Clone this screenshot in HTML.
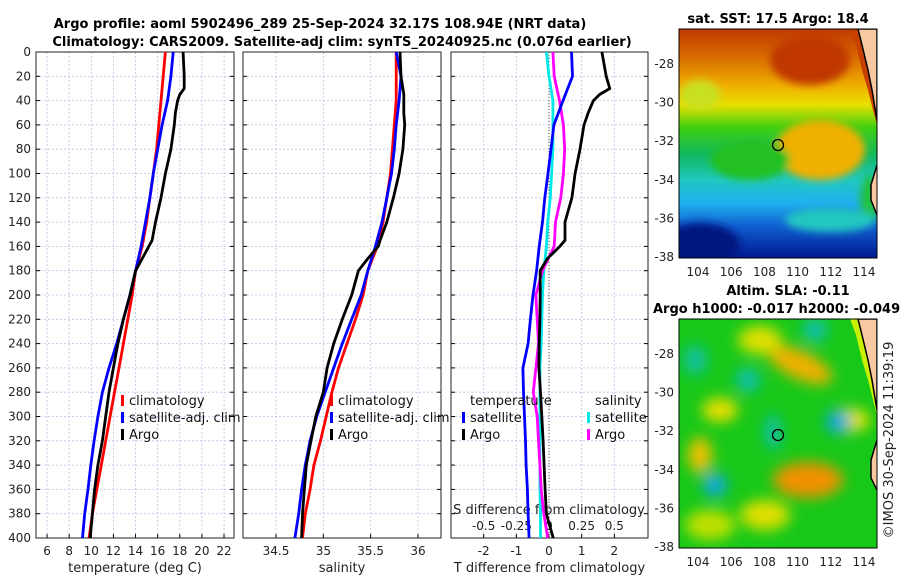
<!DOCTYPE html>
<html><head><meta charset="utf-8"><style>
body{margin:0;background:#fff;}
svg text{font-family:"DejaVu Sans","Liberation Sans",sans-serif;}
</style></head><body>
<svg id="fig" width="900" height="580" viewBox="0 0 900 580" xmlns="http://www.w3.org/2000/svg">
<defs>
<linearGradient id="sstg" x1="0" y1="0" x2="0" y2="1">
<stop offset="0" stop-color="#c03a00"/><stop offset="0.12" stop-color="#d86a00"/>
<stop offset="0.25" stop-color="#f0b000"/><stop offset="0.33" stop-color="#e8e000"/>
<stop offset="0.43" stop-color="#40d010"/><stop offset="0.55" stop-color="#10b860"/>
<stop offset="0.66" stop-color="#20c8c0"/><stop offset="0.76" stop-color="#20b0f0"/>
<stop offset="0.86" stop-color="#1060d0"/><stop offset="1" stop-color="#001890"/>
</linearGradient>
<filter id="blur"><feGaussianBlur stdDeviation="7"/></filter>
<filter id="blur2"><feGaussianBlur stdDeviation="4"/></filter>
<clipPath id="c1"><rect x="679" y="29" width="198" height="229"/></clipPath>
<clipPath id="c2"><rect x="679" y="319" width="198" height="229"/></clipPath>
</defs>
<text x="320" y="28" text-anchor="middle" font-size="13" font-weight="bold">Argo profile: aoml 5902496_289 25-Sep-2024 32.17S 108.94E (NRT data)</text>
<text x="342" y="46" text-anchor="middle" font-size="13" font-weight="bold">Climatology: CARS2009. Satellite-adj clim: synTS_20240925.nc (0.076d earlier)</text>
<g id="panels"></g>
<g id="maps">
<text x="778" y="23" text-anchor="middle" font-size="13" font-weight="bold">sat. SST: 17.5 Argo: 18.4</text>
<g clip-path="url(#c1)">
<rect x="679" y="29" width="198" height="229" fill="url(#sstg)"/>
<g filter="url(#blur2)">
<ellipse cx="810" cy="60" rx="40" ry="25" fill="#c03800"/>
<ellipse cx="700" cy="95" rx="20" ry="15" fill="#c8e020"/>
<ellipse cx="820" cy="150" rx="45" ry="30" fill="#f0b000"/>
<ellipse cx="750" cy="160" rx="40" ry="20" fill="#20c020"/>
<ellipse cx="870" cy="200" rx="10" ry="25" fill="#20c040"/>
<ellipse cx="700" cy="245" rx="40" ry="22" fill="#001880"/>
<ellipse cx="830" cy="220" rx="45" ry="12" fill="#20c8c0"/>
</g>
<path d="M850 29 L856 45 L862 70 L868 90 L873 110 L877 125 L877 29Z" fill="#c84000"/>
<path d="M858 29 L862 45 L868 70 L872 90 L877 120 L877 29Z" fill="#f8c8a0" stroke="#000" stroke-width="1.5"/>
<path d="M877 165 L871 185 L871 200 L877 215" fill="#f8c8a0" stroke="#000" stroke-width="1.5"/>
<circle cx="778" cy="145" r="5.5" fill="none" stroke="#000" stroke-width="1.3"/>
</g>
<rect x="679" y="29" width="198" height="229" fill="none" stroke="#000" stroke-width="1"/>
<text x="788" y="295" text-anchor="middle" font-size="13" font-weight="bold">Altim. SLA: -0.11</text>
<text x="653" y="313" font-size="13" font-weight="bold">Argo h1000: -0.017 h2000: -0.049</text>
<g clip-path="url(#c2)">
<rect x="679" y="319" width="198" height="229" fill="#18c818"/>
<g filter="url(#blur)">
<ellipse cx="800" cy="365" rx="35" ry="14" fill="#f0b000" transform="rotate(25 800 365)"/>
<ellipse cx="760" cy="340" rx="22" ry="14" fill="#e0e000"/>
<ellipse cx="720" cy="410" rx="18" ry="12" fill="#e8e000"/>
<ellipse cx="700" cy="455" rx="12" ry="18" fill="#f0c000"/>
<ellipse cx="808" cy="480" rx="35" ry="18" fill="#f09000"/>
<ellipse cx="765" cy="515" rx="25" ry="15" fill="#e0e000"/>
<ellipse cx="710" cy="525" rx="25" ry="15" fill="#c0e000"/>
<ellipse cx="850" cy="420" rx="20" ry="12" fill="#e0e000"/>
<ellipse cx="715" cy="485" rx="12" ry="12" fill="#10a8e0"/>
<ellipse cx="838" cy="422" rx="12" ry="12" fill="#10a8e0"/>
<ellipse cx="773" cy="432" rx="8" ry="18" fill="#10c0b0"/>
<ellipse cx="815" cy="330" rx="12" ry="12" fill="#10c0b0"/>
<ellipse cx="748" cy="380" rx="12" ry="12" fill="#10c0b0"/>
<ellipse cx="695" cy="360" rx="12" ry="15" fill="#10c0a0"/>
</g>
<path d="M850 319 L856 335 L862 360 L868 380 L873 400 L877 415 L877 319Z" fill="#c8f000"/>
<path d="M858 319 L862 335 L868 360 L872 380 L877 410 L877 319Z" fill="#f8c8a0" stroke="#000" stroke-width="1.5"/>
<path d="M877 440 L871 460 L871 478 L877 490" fill="#f8c8a0" stroke="#000" stroke-width="1.5"/>
<circle cx="778" cy="435" r="5.5" fill="none" stroke="#000" stroke-width="1.3"/>
</g>
<rect x="679" y="319" width="198" height="229" fill="none" stroke="#000" stroke-width="1"/>
<text transform="translate(893,440) rotate(-90)" text-anchor="middle" font-size="13" fill="#222">©IMOS 30-Sep-2024 11:39:19</text>
</g>
</svg>
<script>
const depths=[0,20,40,60,80,100,120,140,160,180,200,220,240,260,280,300,320,340,360,380,400];
const climT=[16.7,16.5,16.3,16.1,15.9,15.6,15.3,15.0,14.6,14.0,13.7,13.3,12.9,12.5,12.1,11.7,11.3,10.9,10.5,10.1,9.8];
const satT=[17.4,17.2,16.9,16.4,16.0,15.6,15.3,14.9,14.5,14.0,13.5,12.9,12.3,11.6,11.0,10.6,10.25,9.95,9.7,9.4,9.2];
const argoDepths=[0,20,30,35,40,50,60,80,100,120,140,155,160,170,180,200,220,240,260,280,300,320,340,360,380,400];
const argoT=[18.3,18.4,18.4,18.0,17.8,17.6,17.5,17.2,16.7,16.3,15.8,15.5,15.2,14.6,14.0,13.5,12.9,12.4,12.0,11.6,11.3,11.0,10.6,10.3,10.1,9.9];
const climS=[35.77,35.77,35.77,35.75,35.73,35.71,35.67,35.63,35.57,35.47,35.42,35.34,35.25,35.16,35.09,35.03,34.97,34.9,34.86,34.81,34.78];
const satS=[35.77,35.82,35.80,35.77,35.75,35.72,35.67,35.62,35.55,35.47,35.40,35.30,35.2,35.11,35.02,34.93,34.86,34.81,34.77,34.74,34.70];
const argoS=[35.81,35.82,35.84,35.85,35.85,35.85,35.86,35.84,35.8,35.74,35.67,35.6,35.58,35.47,35.37,35.30,35.20,35.11,35.04,35.0,34.92,34.87,34.82,34.8,34.78,34.77];
const satTdiff=[0.69,0.72,0.43,0.15,0.06,-0.03,-0.13,-0.2,-0.3,-0.38,-0.49,-0.57,-0.64,-0.8,-0.78,-0.75,-0.72,-0.7,-0.66,-0.64,-0.61];
const argoTdiff=[1.62,1.75,1.86,1.55,1.36,1.2,1.07,0.95,0.8,0.7,0.49,0.49,0.33,-0.05,-0.27,-0.27,-0.28,-0.3,-0.31,-0.26,-0.22,-0.18,-0.15,-0.12,-0.08,0.13];
const satSdiff=[-0.02,0.0,0.03,0.03,0.03,0.02,0.01,-0.01,-0.02,-0.04,-0.05,-0.055,-0.06,-0.07,-0.07,-0.07,-0.07,-0.07,-0.07,-0.065,-0.065];
const argoSdiff=[0.03,0.04,0.08,0.11,0.12,0.11,0.09,0.05,0.04,-0.05,-0.1,-0.09,-0.08,-0.1,-0.12,-0.09,-0.08,-0.07,-0.06,-0.04,-0.01];
const tTicks=[6,8,10,12,14,16,18,20,22];
const sTicks=[34.5,35,35.5,36];
const dTicks=[-2,-1,0,1,2];
const sdTicks=[-0.5,-0.25,0,0.25,0.5];
const depthTicks=[0,20,40,60,80,100,120,140,160,180,200,220,240,260,280,300,320,340,360,380,400];

const NS='http://www.w3.org/2000/svg';
const root=document.getElementById('panels');
function el(tag,attrs,parent){const e=document.createElementNS(NS,tag);for(const k in attrs)e.setAttribute(k,attrs[k]);(parent||root).appendChild(e);return e;}
const yTop=52,yBot=538;
const yS=d=>yTop+d*(yBot-yTop)/400;
function lin(d0,d1,r0,r1){return v=>r0+(v-d0)*(r1-r0)/(d1-d0);}
const panels=[
 {x0:36,x1:234,f:lin(5,22.9,36,234),ticks:tTicks,label:'temperature (deg C)',name:'temperature-panel'},
 {x0:243,x1:441,f:lin(34.5,36,276,418),ticks:sTicks,label:'salinity',name:'salinity-panel'},
 {x0:451,x1:648,f:lin(-3,3,451,647),ticks:dTicks,label:'T difference from climatology',name:'difference-panel'}
];
panels.forEach((p,i)=>{
 const g=el('g',{});
 
 
 depthTicks.forEach(d=>{
  const l=el('line',{x1:p.x0,x2:p.x1,y1:yS(d),y2:yS(d),stroke:'#b8c4e8','stroke-width':0.8,'stroke-dasharray':'2,2'},g);
  
  
  el('line',{x1:p.x0,x2:p.x0+4,y1:yS(d),y2:yS(d),stroke:'#000'},g);
  el('line',{x1:p.x1-4,x2:p.x1,y1:yS(d),y2:yS(d),stroke:'#000'},g);
 });
 p.ticks.forEach(t=>{
  const x=p.f(t);
  const l=el('line',{x1:x,x2:x,y1:yTop,y2:yBot,stroke:'#b8c4e8','stroke-width':0.8,'stroke-dasharray':'2,2'},g);
  
  
  el('line',{x1:x,x2:x,y1:yBot-4,y2:yBot,stroke:'#000'},g);
  const tx=el('text',{x:x,y:yBot+17,'text-anchor':'middle','font-size':12,fill:'#222'},g);
  
  
  tx.textContent=String(t);
 });
 const xl=el('text',{x:(p.x0+p.x1)/2,y:yBot+34,'text-anchor':'middle','font-size':13,fill:'#222'},g);
 
 
 xl.textContent=p.label;
 el('rect',{x:p.x0,y:yTop,width:p.x1-p.x0,height:yBot-yTop,fill:'none',stroke:'#222','stroke-width':1},g);
});
depthTicks.forEach(d=>{
 const t=el('text',{x:31,y:yS(d)+4,'text-anchor':'end','font-size':12,fill:'#222'});
 
 
 t.textContent=String(d);
});
const zl=el('line',{x1:panels[2].f(0),x2:panels[2].f(0),y1:yTop,y2:yBot,stroke:'#555','stroke-width':1,'stroke-dasharray':'1,2'});


const sdf=lin(-0.75,0.75,451,647);
sdTicks.forEach(t=>{
 const tx=el('text',{x:sdf(t),y:yBot-8,'text-anchor':'middle','font-size':12,fill:'#222'});
 
 
 tx.textContent=String(t);
});
const sdt=el('text',{x:549,y:yBot-24,'text-anchor':'middle','font-size':13,fill:'#222'});


sdt.textContent='S difference from climatology';

function line(xs,ds,f,color,name){
 const pts=xs.map((v,i)=>f(v).toFixed(1)+','+yS(ds[i]).toFixed(1)).join(' ');
 const p=el('polyline',{points:pts,fill:'none',stroke:color,'stroke-width':2.8,'stroke-linejoin':'round'});
 
 
}
const fT=panels[0].f,fS=panels[1].f,fD=panels[2].f;
line(climT,depths,fT,'#ff0000','climatology-temperature-line');
line(satT,depths,fT,'#0000ff','satellite-temperature-line');
line(argoT,argoDepths,fT,'#000','argo-temperature-line');
line(climS,depths,fS,'#ff0000','climatology-salinity-line');
line(satS,depths,fS,'#0000ff','satellite-salinity-line');
line(argoS,argoDepths,fS,'#000','argo-salinity-line');
line(satSdiff,depths,sdf,'#00e8e8','satellite-salinity-diff-line');
line(argoSdiff,depths,sdf,'#ff00ff','argo-salinity-diff-line');
line(satTdiff,depths,fD,'#0000ff','satellite-temperature-diff-line');
line(argoTdiff,argoDepths,fD,'#000','argo-temperature-diff-line');

function legend(x,y,items,name,title){
 const g=el('g',{});
 
 
 if(title){const t=el('text',{x:x+8,y:y-17,'font-size':13,fill:'#111'},g);t.textContent=title;}
 items.forEach((it,i)=>{
  el('rect',{x:x,y:y+i*17-10,width:3,height:11,fill:it[1]},g);
  const t=el('text',{x:x+8,y:y+i*17,'font-size':13,fill:'#111'},g);
  
  
  t.textContent=it[0];
 });
}
legend(121,405,[['climatology','#ff0000'],['satellite-adj. clim','#0000ff'],['Argo','#000']],'temperature-legend');
legend(330,405,[['climatology','#ff0000'],['satellite-adj. clim','#0000ff'],['Argo','#000']],'salinity-legend');
legend(462,422,[['satellite','#0000ff'],['Argo','#000']],'diff-temperature-legend','temperature');
legend(587,422,[['satellite','#00e8e8'],['Argo','#ff00ff']],'diff-salinity-legend','salinity');

const mapLon=[104,106,108,110,112,114];
const mapLat=[-28,-30,-32,-34,-36,-38];
const lonX=lin(104,114,698,864);
[[64,257,258,'sst'],[354,547,548,'sla']].forEach(m=>{
 const latY=lin(-28,-38,m[0],m[1]);
 mapLat.forEach(v=>{const t=el('text',{x:674,y:latY(v)+4,'text-anchor':'end','font-size':12,fill:'#222'});
  
  
  t.textContent=String(v);});
 mapLon.forEach(v=>{const t=el('text',{x:lonX(v),y:m[2]+18,'text-anchor':'middle','font-size':12,fill:'#222'});
  
  
  t.textContent=String(v);});
});
</script>
</body></html>
